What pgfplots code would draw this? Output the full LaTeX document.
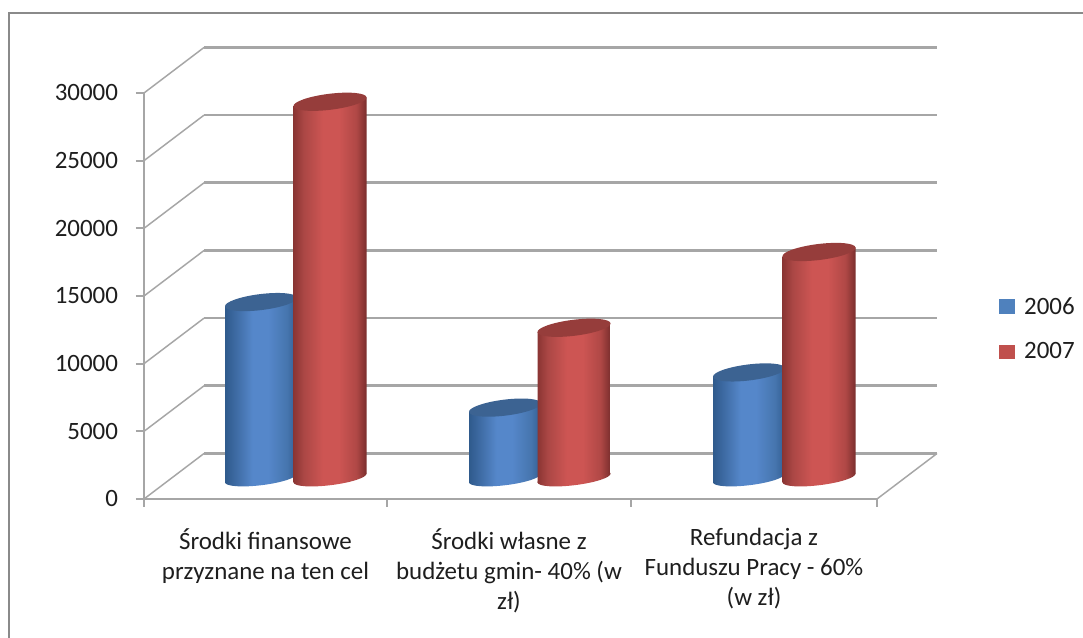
\documentclass[border=0pt]{standalone}
\usepackage{pgfplots}
\pgfplotsset{compat=1.18}
\usepackage{fontspec}
\setmainfont{Carlito}
\definecolor{fr}{HTML}{8A8A8A}
\definecolor{gl}{HTML}{A6A6A6}
\definecolor{txt}{HTML}{1E1E1E}
\definecolor{bT}{HTML}{3C6392}
\definecolor{rT}{HTML}{963D3B}
\definecolor{bL}{HTML}{4F81BD}
\definecolor{rL}{HTML}{C0504D}
\definecolor{ba}{HTML}{2F5A8C}
\definecolor{bb}{HTML}{3F6CA5}
\definecolor{bc}{HTML}{5587CA}
\definecolor{bd}{HTML}{4675AE}
\definecolor{be}{HTML}{325E92}
\definecolor{ra}{HTML}{8A3533}
\definecolor{rb}{HTML}{AB4745}
\definecolor{rc}{HTML}{CD5553}
\definecolor{rd}{HTML}{B04846}
\definecolor{re}{HTML}{7A2E2D}
\pgfdeclarehorizontalshading{cylB}{100bp}{color(0bp)=(ba); color(25bp)=(ba); color(33bp)=(bb); color(44bp)=(bc); color(55bp)=(bc); color(68bp)=(bd); color(75bp)=(be); color(100bp)=(be)}
\pgfdeclarehorizontalshading{cylR}{100bp}{color(0bp)=(ra); color(25bp)=(ra); color(32bp)=(rb); color(45bp)=(rc); color(56bp)=(rc); color(68bp)=(rd); color(75bp)=(re); color(100bp)=(re)}
\pgfdeclareplotmark{topB}{\fill[bT,draw=none] (0,0) ellipse (27.2pt and 6pt);}
\pgfdeclareplotmark{topR}{\fill[rT,draw=none] (0,0) ellipse (27.6pt and 6pt);}
\pgfdeclareplotmark{botB}{\shade[shading=cylB,draw=none] (0,0) ellipse (27.2pt and 5.4pt);}
\pgfdeclareplotmark{botR}{\shade[shading=cylR,draw=none] (0,0) ellipse (27.6pt and 5.4pt);}
\pgfplotsset{
  % slanted cylinder body: #1 is the bar's x, so that its centre keeps the depth shift
  cylA/.style={forget plot,ybar,bar width=54pt,bar shift=0pt,draw=none,shading=cylB,yslant=0.123,yshift={(15.75-0.09225*#1)*1pt}},
  cylZ/.style={forget plot,ybar,bar width=54.75pt,bar shift=0pt,draw=none,shading=cylR,yslant=0.123,yshift={(15.75-0.09225*#1)*1pt}},
  capm/.style={forget plot,only marks,mark=#1,mark options={rotate=7},yshift=15.75pt},
}
\begin{document}
\begin{tikzpicture}
\path[use as bounding box,fill=white] (0,0) rectangle (812.25pt,478.5pt);
\draw[fr,line width=1.5pt] (6.75pt,0) -- (6.75pt,468.6pt) -- (812.25pt,468.6pt);
\begin{axis}[
  at={(108pt,104.25pt)}, anchor=south west,
  scale only axis, width=549.75pt, height=304.5pt,
  xmin=0, xmax=733, ymin=0, ymax=30000,
  clip=false, clip mode=individual,
  axis lines*=left,
  axis line style={gl,line width=1.6pt},
  xtick={121.5,365,610},
  xticklabels={{Środki finansowe\\przyznane na ten cel},{Środki własne z\\budżetu gmin- 40\% (w\\zł)},{Refundacja z\\Funduszu Pracy - 60\%\\(w zł)}},
  x tick label style={align=center,font=\fontsize{18.7}{22.5}\selectfont,text=txt,yshift=-12.5pt},
  minor xtick={0,243,487,733},
  ytick={0,5000,10000,15000,20000,25000,30000},
  y tick label style={font=\fontsize{18.7}{22}\selectfont,text=txt,xshift=-10pt},
  scaled y ticks=false,
  /pgf/number format/.cd,1000 sep={},assume math mode=true,
  /pgfplots/.cd,
  tick align=outside,
  major tick length=6pt,
  minor tick length=6pt,
  major x tick style={draw=none},
  minor x tick style={gl,line width=1.4pt},
  major y tick style={gl,line width=1.4pt},
  legend style={at={(axis cs:855,12560)},anchor=west,draw=none,fill=none,inner sep=0pt,outer sep=0pt,
    font=\fontsize{18.7}{22}\selectfont,text=txt,cells={anchor=west},row sep=16pt},
]
% walls: depth gridlines
\addplot[forget plot,gl,line width=1.1pt] coordinates {(0,0)(60,3362)};
\addplot[forget plot,gl,line width=1.1pt] coordinates {(0,5000)(60,8362)};
\addplot[forget plot,gl,line width=1.1pt] coordinates {(0,10000)(60,13362)};
\addplot[forget plot,gl,line width=1.1pt] coordinates {(0,15000)(60,18362)};
\addplot[forget plot,gl,line width=1.1pt] coordinates {(0,20000)(60,23362)};
\addplot[forget plot,gl,line width=1.1pt] coordinates {(0,25000)(60,28362)};
\addplot[forget plot,gl,line width=1.1pt] coordinates {(0,30000)(60,33362)};
\addplot[forget plot,gl,line width=1.1pt] coordinates {(733,0)(793,3362)};
\addplot[forget plot,gl,line width=2pt] coordinates {(60,3362)(793,3362)};
\addplot[forget plot,gl,line width=2pt] coordinates {(60,8362)(793,8362)};
\addplot[forget plot,gl,line width=2pt] coordinates {(60,13362)(793,13362)};
\addplot[forget plot,gl,line width=2pt] coordinates {(60,18362)(793,18362)};
\addplot[forget plot,gl,line width=2pt] coordinates {(60,23362)(793,23362)};
\addplot[forget plot,gl,line width=2pt] coordinates {(60,28362)(793,28362)};
\addplot[forget plot,gl,line width=2pt] coordinates {(60,33362)(793,33362)};
% legend
\addlegendimage{legend image code/.code={\fill[bL] (0pt,-5.2pt) rectangle (11pt,5.2pt);\path (16.5pt,0pt);}}
\addlegendentry{2006}
\addlegendimage{legend image code/.code={\fill[rL] (0pt,-5.2pt) rectangle (11pt,5.2pt);\path (16.5pt,0pt);}}
\addlegendentry{2007}
% category 1
\addplot[capm=botB] coordinates {(117,0)};
\addplot[cylA=117] coordinates {(117,13000)};
\addplot[capm=topB] coordinates {(117,13000)};
\addplot[capm=botR] coordinates {(186,0)};
\addplot[cylZ=186] coordinates {(186,27800)};
\addplot[capm=topR] coordinates {(186,27800)};
% category 2
\addplot[capm=botB] coordinates {(361,0)};
\addplot[cylA=361] coordinates {(361,5200)};
\addplot[capm=topB] coordinates {(361,5200)};
\addplot[capm=botR] coordinates {(430,0)};
\addplot[cylZ=430] coordinates {(430,11100)};
\addplot[capm=topR] coordinates {(430,11100)};
% category 3
\addplot[capm=botB] coordinates {(605,0)};
\addplot[cylA=605] coordinates {(605,7800)};
\addplot[capm=topB] coordinates {(605,7800)};
\addplot[capm=botR] coordinates {(675,0)};
\addplot[cylZ=675] coordinates {(675,16700)};
\addplot[capm=topR] coordinates {(675,16700)};
\end{axis}
\end{tikzpicture}
\end{document}
